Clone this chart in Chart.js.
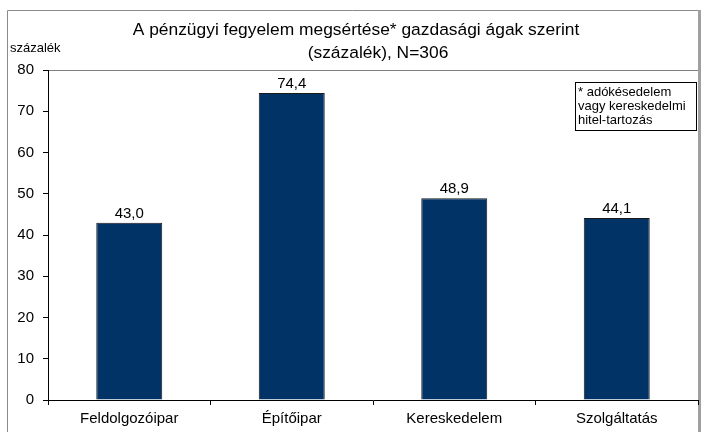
<!DOCTYPE html>
<html>
<head>
<meta charset="utf-8">
<script src="https://cdn.jsdelivr.net/npm/chart.js@4/dist/chart.umd.min.js"></script>
<style>
  html, body { margin: 0; padding: 0; background: #fff; }
  #wrap { width: 701px; height: 432px; position: relative; }
</style>
</head>
<body>
<div id="wrap"><canvas id="chart" width="701" height="432"></canvas></div>
<script>
const categories = ['Feldolgozóipar', 'Építőipar', 'Kereskedelem', 'Szolgáltatás'];
const values = [43.0, 74.4, 48.9, 44.1];
const yTicks = [0, 10, 20, 30, 40, 50, 60, 70, 80];
const titleLines = ['A pénzügyi fegyelem megsértése* gazdasági ágak szerint', '(százalék), N=306'];
const yTitle = 'százalék';
const noteLines = ['* adókésedelem', 'vagy kereskedelmi', 'hitel-tartozás'];

const FONT = 'Arial, "Liberation Sans", sans-serif';

const decor = {
    id: 'decor',
    beforeDraw(chart) {
        const ctx = chart.ctx;
        ctx.save();
        ctx.fillStyle = '#fff';
        ctx.fillRect(0, 0, chart.width, chart.height);
        // outer frame
        ctx.strokeStyle = '#8a8a8a';
        ctx.lineWidth = 1;
        ctx.beginPath();
        ctx.moveTo(7.5, 440);
        ctx.lineTo(7.5, 10.5);
        ctx.lineTo(698, 10.5);
        ctx.stroke();
        ctx.strokeStyle = '#a0a0a0';
        ctx.lineWidth = 3;
        ctx.beginPath();
        ctx.moveTo(699.5, 10);
        ctx.lineTo(699.5, 440);
        ctx.stroke();
        // plot top line
        const a = chart.chartArea;
        ctx.strokeStyle = '#808080';
        ctx.lineWidth = 1;
        ctx.beginPath();
        ctx.moveTo(a.left, a.top + 0.5);
        ctx.lineTo(a.right, a.top + 0.5);
        ctx.stroke();
        ctx.restore();
    },
    afterDraw(chart) {
        const ctx = chart.ctx;
        ctx.save();
        ctx.fillStyle = '#000';
        ctx.textAlign = 'center';
        ctx.textBaseline = 'alphabetic';
        ctx.font = '17.4px ' + FONT;
        ctx.fillText(titleLines[0], 356, 35);
        ctx.fillText(titleLines[1], 378, 58);

        ctx.textAlign = 'left';
        ctx.font = '13px ' + FONT;
        ctx.fillText(yTitle, 10, 52);

        // note box
        ctx.strokeStyle = '#000';
        ctx.lineWidth = 1;
        ctx.strokeRect(575.5, 82.5, 121, 48);
        ctx.font = '13px ' + FONT;
        noteLines.forEach((t, i) => ctx.fillText(t, 578, 96 + i * 14));

        // value labels
        const meta = chart.getDatasetMeta(0);
        ctx.textAlign = 'center';
        ctx.font = '15px ' + FONT;
        meta.data.forEach((bar, i) => {
            ctx.fillText(values[i].toFixed(1).replace('.', ','), bar.x, bar.y - 5);
        });
        ctx.restore();
    }
};

new Chart(document.getElementById('chart'), {
    type: 'bar',
    data: {
        labels: categories,
        datasets: [{
            data: values,
            backgroundColor: '#023366',
            borderColor: '#1a1a1a',
            borderWidth: 1,
            barPercentage: 0.406,
            categoryPercentage: 1
        }]
    },
    options: {
        responsive: false,
        animation: false,
        devicePixelRatio: 1,
        layout: { padding: { left: 0, top: 70, right: 3, bottom: 0 } },
        plugins: {
            legend: { display: false },
            title: { display: false },
            tooltip: { enabled: false }
        },
        scales: {
            x: {
                grid: { offset: true, drawOnChartArea: false, tickLength: 5, color: '#000' },
                border: { color: '#000' },
                ticks: { color: '#000', font: { family: FONT, size: 15 }, padding: 5, maxRotation: 0 },
                afterFit(scale) { scale.height = 32; }
            },
            y: {
                min: 0,
                max: 80,
                grid: { drawOnChartArea: false, tickLength: 5, color: '#000' },
                border: { color: '#000' },
                afterBuildTicks(scale) { scale.ticks = yTicks.map(v => ({ value: v })); },
                ticks: { color: '#000', font: { family: FONT, size: 15 }, padding: 9 },
                afterFit(scale) { scale.width = 48; }
            }
        }
    },
    plugins: [decor]
});
</script>
</body>
</html>
